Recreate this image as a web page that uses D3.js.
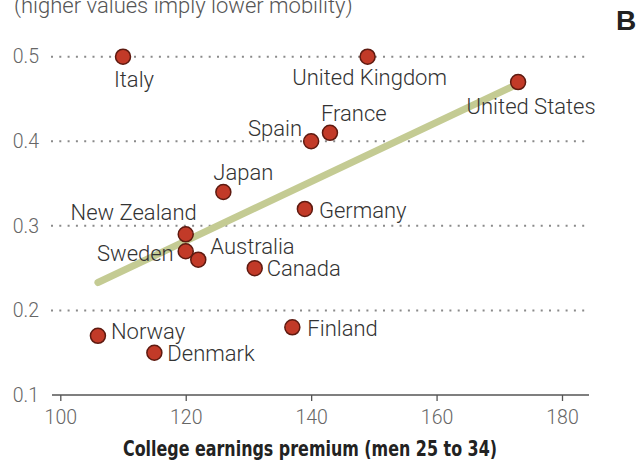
<!DOCTYPE html>
<html>
<head>
<meta charset="utf-8">
<script src="https://cdn.jsdelivr.net/npm/d3@7"></script>
<style>
  body { margin: 0; background: #fff; }
  svg { display: block; }
  .tick text { font-family: Roboto, "Open Sans", sans-serif; font-weight: 300; font-size: 19.5px; fill: #666; }
  .lbl { font-family: Roboto, "Open Sans", sans-serif; font-weight: 300; font-size: 22px; fill: #333; }
</style>
</head>
<body>
<svg id="chart"></svg>
<script>
// data
const countries = ["Italy", "United Kingdom", "United States", "France", "Spain", "Japan",
  "Germany", "New Zealand", "Sweden", "Australia", "Canada", "Norway", "Denmark", "Finland"]
const premium  = [110, 149, 173, 143, 140, 126, 139, 120, 120, 122, 131, 106, 115, 137]
const mobility = [0.50, 0.50, 0.47, 0.41, 0.40, 0.34, 0.32, 0.29, 0.27, 0.26, 0.25, 0.17, 0.15, 0.18]
const trendX = [106, 173]
const trendY = [0.233, 0.468]
const xTicks = [100, 120, 140, 160, 180]
const yTicks = [0.1, 0.2, 0.3, 0.4, 0.5]

// label placement next to each dot
const labelPos = {
  "Italy":          { dx: 11,  dy: 30,   anchor: "middle" },
  "United Kingdom": { dx: 2,   dy: 28,   anchor: "middle" },
  "United States":  { dx: 13,  dy: 31.5, anchor: "middle" },
  "France":         { dx: -9,  dy: -11.5, anchor: "start" },
  "Spain":          { dx: -9,  dy: -5.5, anchor: "end" },
  "Japan":          { dx: -10, dy: -12.5, anchor: "start" },
  "Germany":        { dx: 14,  dy: 9,    anchor: "start" },
  "New Zealand":    { dx: 11,  dy: -14.5, anchor: "end" },
  "Sweden":         { dx: -12, dy: 10,   anchor: "end" },
  "Australia":      { dx: 12,  dy: -5.5, anchor: "start" },
  "Canada":         { dx: 12,  dy: 7.5,  anchor: "start" },
  "Norway":         { dx: 13,  dy: 3.5,  anchor: "start" },
  "Denmark":        { dx: 13,  dy: 8.5,  anchor: "start" },
  "Finland":        { dx: 15,  dy: 8.5,  anchor: "start" }
}

const width = 643, height = 462
const gridLeft = 51, gridRight = 589

const data = countries.map((c, i) => ({ name: c, x: premium[i], y: mobility[i] }))

const svg = d3.select('#chart')
  .attr('width', width)
  .attr('height', height)

const xScale = d3.scaleLinear()
  .domain([100, 180])
  .range([60.3, 562])
const yScale = d3.scaleLinear()
  .domain([0.1, 0.5])
  .range([395, 56.7])

// subtitle, cut off at the top
svg.append('text')
  .attr('x', 14)
  .attr('y', 13)
  .attr('font-family', 'Roboto, sans-serif')
  .attr('font-weight', 300)
  .attr('font-size', 22)
  .attr('fill', '#555')
  .text('(higher values imply lower mobility)')

svg.append('text')
  .attr('x', 616)
  .attr('y', 30)
  .attr('font-family', '"Liberation Sans", Arial, sans-serif')
  .attr('font-weight', 'bold')
  .attr('font-size', 28)
  .attr('fill', '#222')
  .text('B')

// dotted grid lines
svg.append('g')
  .selectAll('line')
  .data(yTicks.filter(d => d > 0.1))
  .enter()
  .append('line')
  .attr('x1', gridLeft)
  .attr('x2', gridRight)
  .attr('y1', d => yScale(d))
  .attr('y2', d => yScale(d))
  .attr('stroke', '#8a8a8a')
  .attr('stroke-width', 2)
  .attr('stroke-dasharray', '2,6.3')

// y axis labels only
const yAxis = svg.append('g')
  .attr('transform', `translate(${gridLeft - 2}, 0)`)
  .call(d3.axisLeft(yScale).tickValues(yTicks).tickFormat(d3.format('.1f')).tickSize(0).tickPadding(10))
yAxis.select('.domain').remove()

// x axis
const xAxis = svg.append('g')
  .attr('transform', `translate(0, ${yScale(0.1)})`)
  .call(d3.axisBottom(xScale).tickValues(xTicks).tickSize(6).tickSizeOuter(0).tickPadding(5))
xAxis.select('.domain').remove()
xAxis.selectAll('.tick line').attr('stroke', '#555').attr('stroke-width', 1.3)
xAxis.append('line')
  .attr('x1', gridLeft + 1)
  .attr('x2', gridRight)
  .attr('stroke', '#555')
  .attr('stroke-width', 1.5)
xAxis.selectAll('.tick text').attr('dy', '0.9em')

// trend line
svg.append('line')
  .attr('x1', xScale(trendX[0]))
  .attr('y1', yScale(trendY[0]))
  .attr('x2', xScale(trendX[1]))
  .attr('y2', yScale(trendY[1]))
  .attr('stroke', '#c4cb93')
  .attr('stroke-width', 7)
  .attr('stroke-linecap', 'round')

// dots
svg.append('g')
  .selectAll('circle')
  .data(data)
  .enter()
  .append('circle')
  .attr('cx', d => xScale(d.x))
  .attr('cy', d => yScale(d.y))
  .attr('r', 7.5)
  .attr('fill', '#c23a28')
  .attr('stroke', '#5e1a10')
  .attr('stroke-width', 1.5)

// country labels
svg.append('g')
  .selectAll('text')
  .data(data)
  .enter()
  .append('text')
  .attr('class', 'lbl')
  .attr('x', d => xScale(d.x) + labelPos[d.name].dx)
  .attr('y', d => yScale(d.y) + labelPos[d.name].dy)
  .attr('text-anchor', d => labelPos[d.name].anchor)
  .text(d => d.name)

// x axis title
svg.append('text')
  .attr('x', 310)
  .attr('y', 456)
  .attr('text-anchor', 'middle')
  .attr('font-family', '"Liberation Sans Narrow", "DejaVu Sans Condensed", sans-serif')
  .attr('font-weight', 'bold')
  .attr('font-size', 22)
  .attr('textLength', 374)
  .attr('lengthAdjust', 'spacingAndGlyphs')
  .attr('fill', '#222')
  .text('College earnings premium (men 25 to 34)')
</script>
</body>
</html>
